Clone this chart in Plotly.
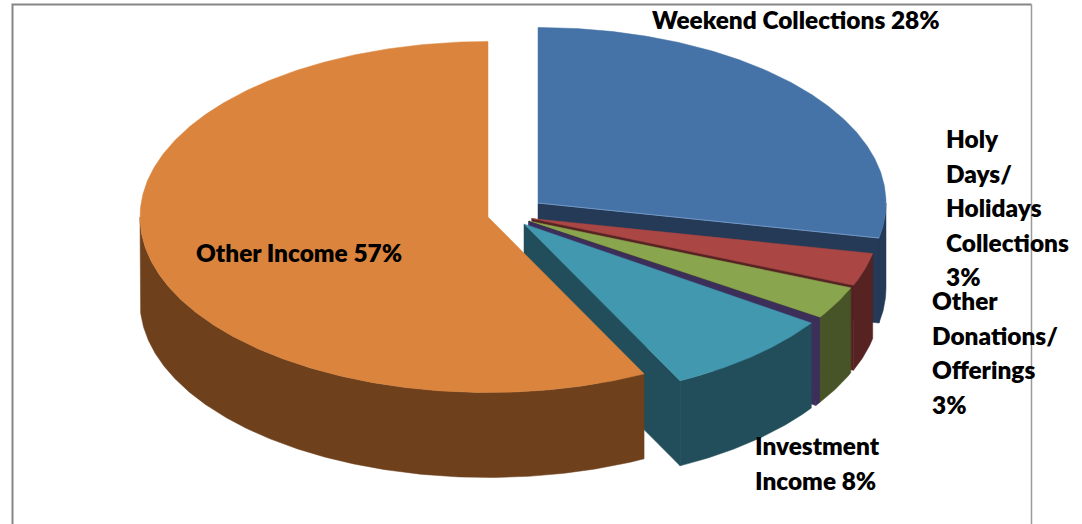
import numpy as np
import plotly.graph_objects as go

# Income shares, clockwise from twelve o'clock
CATEGORIES = ["Weekend Collections", "Holy Days/Holidays Collections",
              "Other Donations/Offerings", "Unallocated", "Investment Income", "Other Income"]
VALUES = [28, 3, 3, 0.3, 8, 57]
LABEL_LINES = [
    ["Weekend Collections 28%"],
    ["Holy", "Days/", "Holidays", "Collections", "3%"],
    ["Other", "Donations/", "Offerings", "3%"],
    [],
    ["Investment", "Income 8%"],
    ["Other Income 57%"],
]

# Styling per slice
TOP_COLORS = ["#4573A7", "#AA4643", "#89A54E", "#3D2F5B", "#4198AF", "#DB843D"]
SIDE_COLORS = ["#243A57", "#562322", "#465427", "#3D2F5B", "#224E5B", "#6F401C"]
APEX_X = [538, 531.7, 529, 528.5, 524, 488]
APEX_Y = [203, 218.5, 221, 221.5, 224, 217]
LABEL_X = [650, 944, 930, 0, 753, 194]
LABEL_Y = [19.5, 138.5, 300.5, 0, 445.5, 252.5]

RX, RY, DEPTH = 348, 175.5, 85
LINE_PITCH = 34.5
FONT = dict(family="Lato, Carlito, sans-serif", size=24.4, color="#000000", weight=800)


def rim(cx, cy, a0, a1, drop=0.0):
    """Points on the pie ellipse between two clockwise angles (degrees from the top)."""
    n = max(2, int(abs(a1 - a0) * 2) + 2)
    t = np.radians(np.linspace(a0, a1, n))
    return cx + RX * np.sin(t), cy - RY * np.cos(t) + drop


def polygon(x, y, color):
    return go.Scatter(x=np.r_[x, x[0]], y=np.r_[y, y[0]], mode="lines", fill="toself",
                      fillcolor=color, line=dict(color=color, width=0.5),
                      hoverinfo="skip", showlegend=False)


fig = go.Figure()
degrees = 360 * np.array(VALUES, dtype=float) / sum(VALUES)
stops = np.r_[0, np.cumsum(degrees)]

for i, name in enumerate(CATEGORIES):
    a0, a1 = stops[i], stops[i + 1]
    cx, cy = APEX_X[i], APEX_Y[i]
    side, top = SIDE_COLORS[i], TOP_COLORS[i]

    # Cut faces seen from the front
    for ang, visible in ((a1, np.sin(np.radians(a1)) > 1e-6), (a0, np.sin(np.radians(a0)) < -1e-6)):
        if visible:
            ex, ey = rim(cx, cy, ang, ang)
            fig.add_trace(polygon(np.array([cx, ex[0], ex[0], cx]),
                                  np.array([cy, ey[0], ey[0] + DEPTH, cy + DEPTH]), side))

    # Outer wall: only the part of the rim facing the viewer
    lo, hi = max(a0, 90), min(a1, 270)
    if hi > lo:
        ux, uy = rim(cx, cy, lo, hi)
        lx, ly = rim(cx, cy, hi, lo, DEPTH)
        fig.add_trace(polygon(np.r_[ux, lx], np.r_[uy, ly], side))

    # Top face
    if a1 > a0:
        tx, ty = rim(cx, cy, a0, a1)
        fig.add_trace(polygon(np.r_[cx, tx], np.r_[cy, ty], top))

    # Pale highlight along the cut edge of the largest back slice
    if i == 0:
        ex, ey = rim(cx, cy, a1, a1)
        fig.add_trace(go.Scatter(x=[cx, ex[0]], y=[cy, ey[0]], mode="lines",
                                 line=dict(color="#7396C2", width=1),
                                 hoverinfo="skip", showlegend=False))

annotations = []
for lines, lx, ly in zip(LABEL_LINES, LABEL_X, LABEL_Y):
    for k, line in enumerate(lines):
        annotations.append(dict(x=lx, y=ly + k * LINE_PITCH, text=line, showarrow=False,
                                xanchor="left", yanchor="middle", font=FONT))

frame = [
    dict(type="path", path="M 12.5 524 L 12.5 4.5 L 1031.5 4.5", layer="below",
         line=dict(color="#868686", width=2)),
    dict(type="line", x0=1031.5, x1=1031.5, y0=4.5, y1=524, layer="below",
         line=dict(color="#9A9A9A", width=1.5)),
]

fig.update_layout(
    width=1082, height=524, autosize=False,
    margin=dict(l=0, r=0, t=0, b=0),
    paper_bgcolor="white", plot_bgcolor="white",
    xaxis=dict(range=[0, 1082], visible=False, fixedrange=True),
    yaxis=dict(range=[524, 0], visible=False, fixedrange=True),
    annotations=annotations, shapes=frame, showlegend=False,
)
fig.write_html("out.html", config=dict(displayModeBar=False))
